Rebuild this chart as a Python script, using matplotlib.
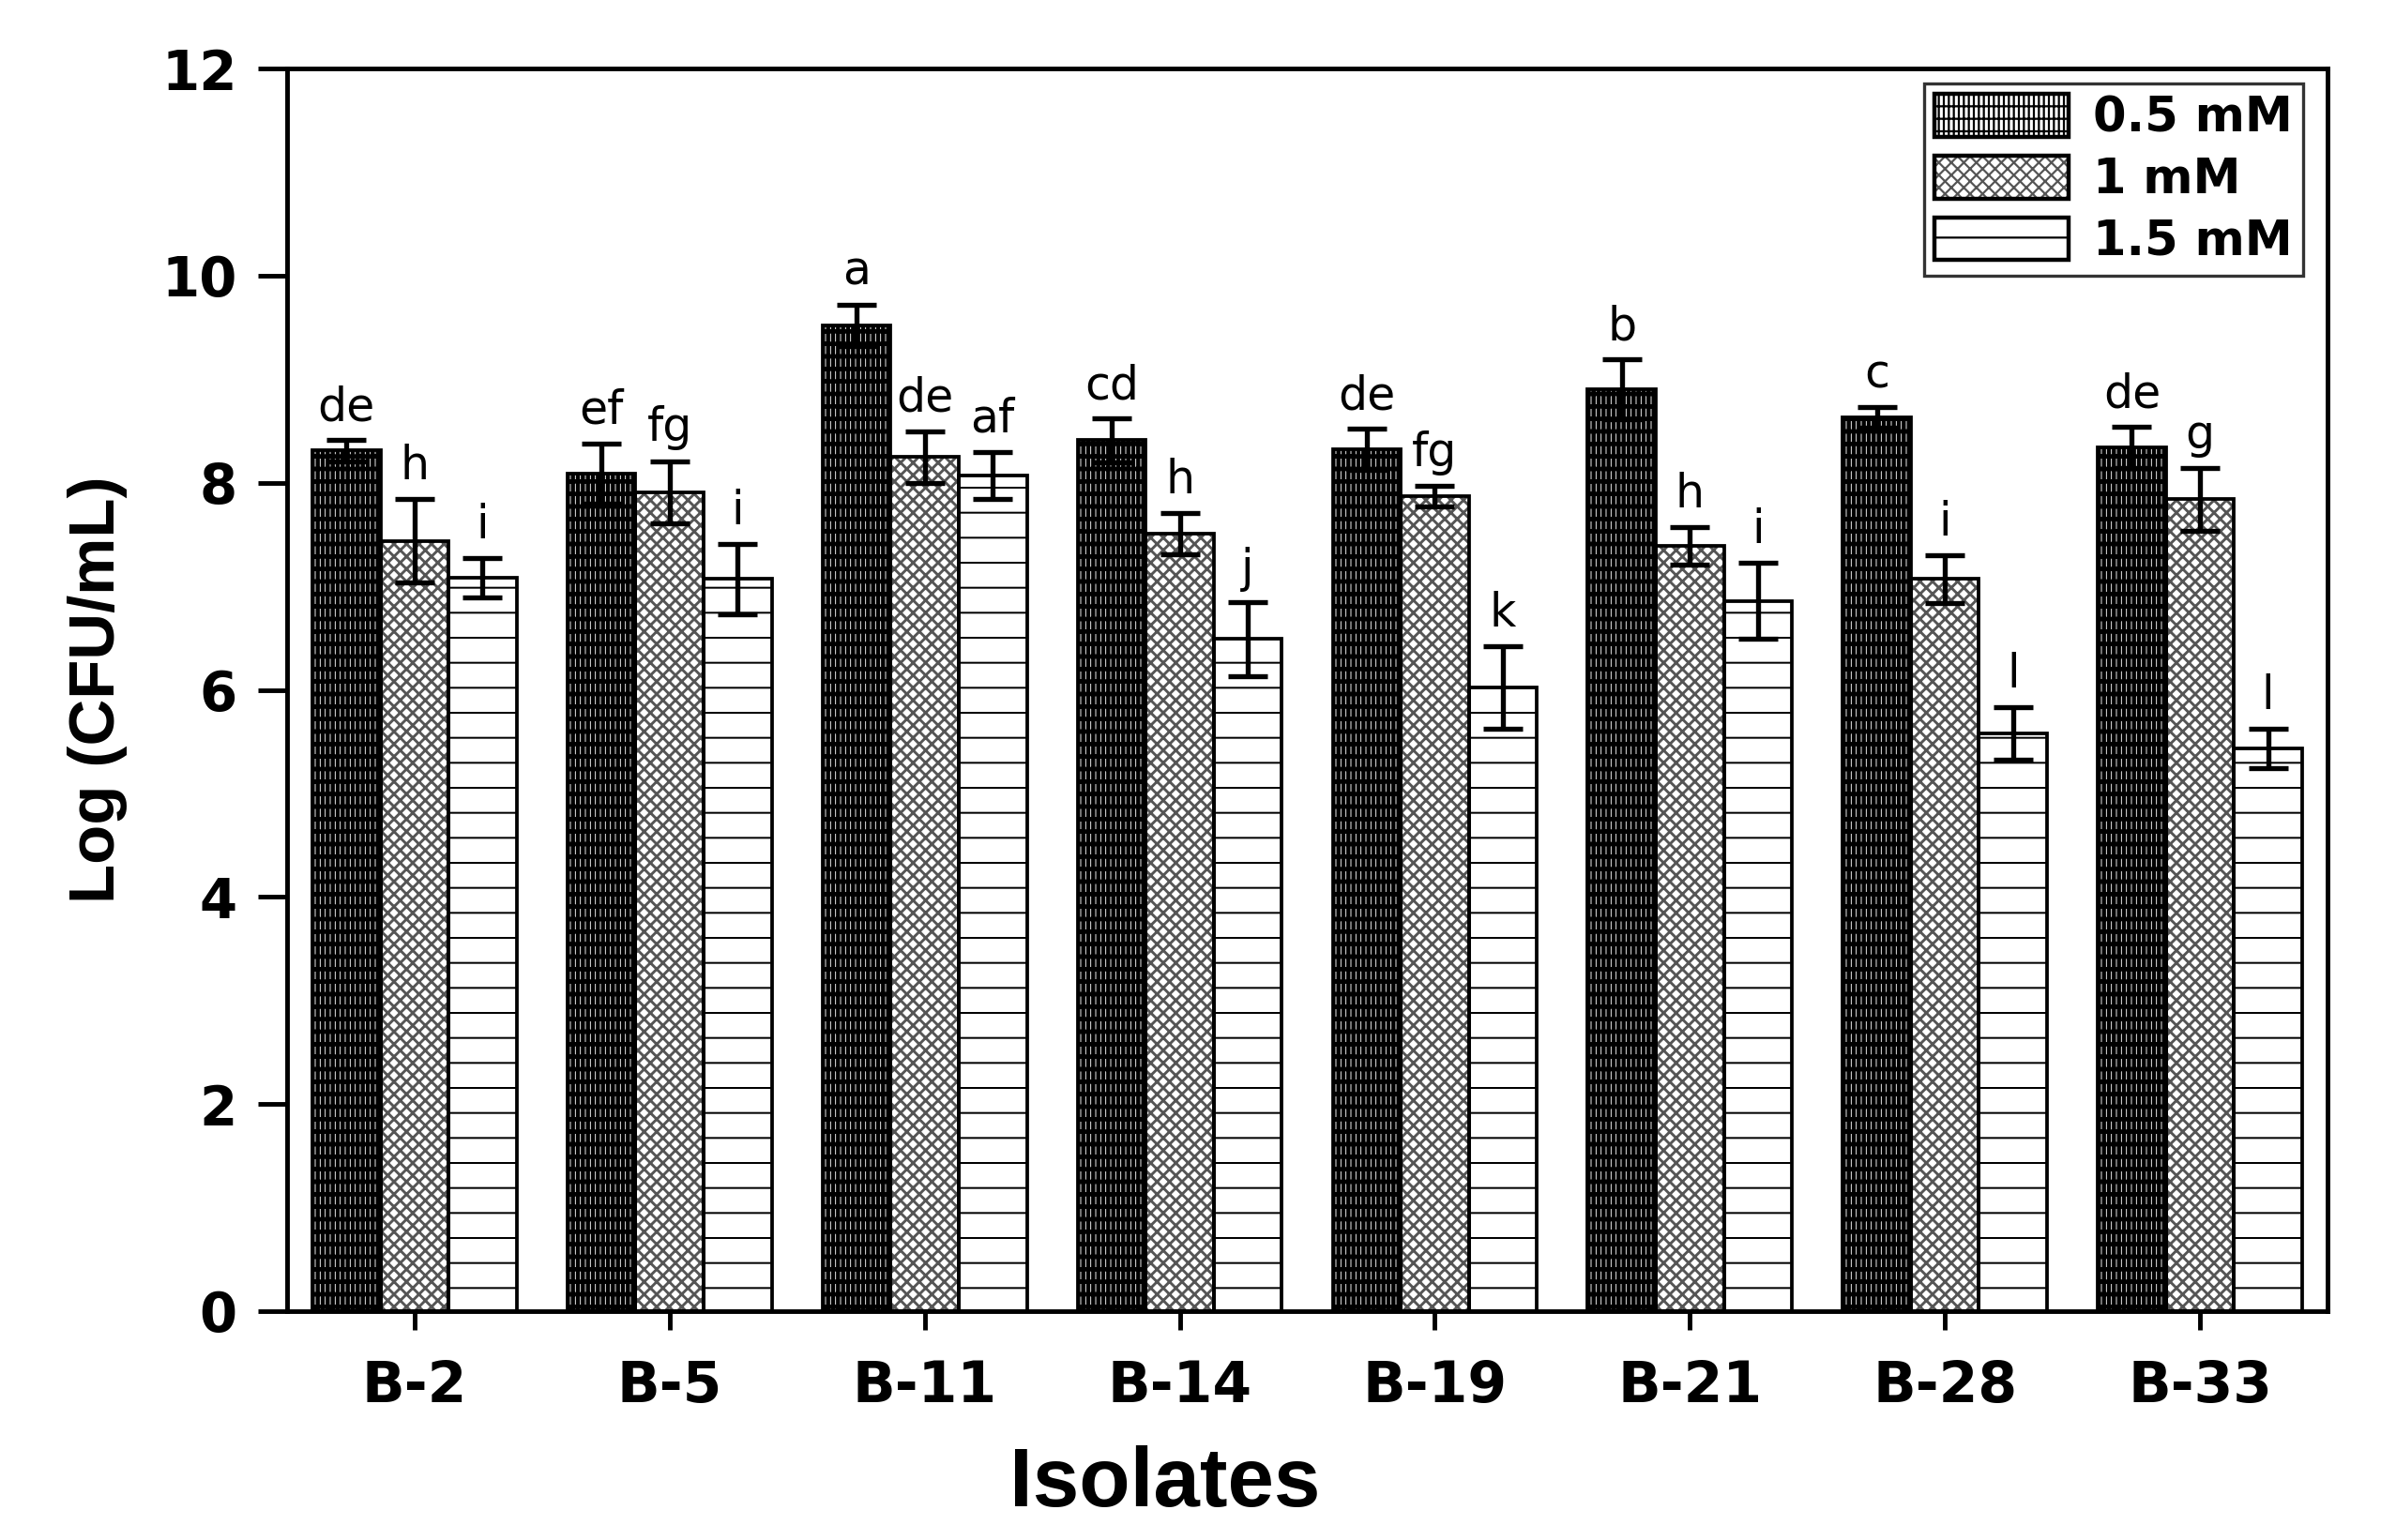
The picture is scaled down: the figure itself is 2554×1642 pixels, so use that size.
import matplotlib
matplotlib.use("Agg")
import matplotlib.pyplot as plt
import numpy as np
from matplotlib.patches import Patch
from matplotlib.legend_handler import HandlerTuple

isolates = ["B-2", "B-5", "B-11", "B-14", "B-19", "B-21", "B-28", "B-33"]
series = ["0.5 mM", "1 mM", "1.5 mM"]
v_05 = [8.31, 8.09, 9.52, 8.41, 8.32, 8.90, 8.63, 8.34]
v_10 = [7.44, 7.91, 8.25, 7.51, 7.87, 7.39, 7.07, 7.84]
v_15 = [7.08, 7.07, 8.07, 6.49, 6.02, 6.86, 5.58, 5.43]
e_05 = [0.10, 0.29, 0.20, 0.21, 0.20, 0.29, 0.10, 0.20]
e_10 = [0.40, 0.30, 0.25, 0.20, 0.10, 0.18, 0.23, 0.30]
e_15 = [0.19, 0.34, 0.23, 0.36, 0.40, 0.37, 0.25, 0.19]
l_05 = ["de", "ef", "a", "cd", "de", "b", "c", "de"]
l_10 = ["h", "fg", "de", "h", "fg", "h", "i", "g"]
l_15 = ["i", "i", "af", "j", "k", "i", "l", "l"]
yticks = [0, 2, 4, 6, 8, 10, 12]

DPI = 160
plt.rcParams['font.family'] = ['DejaVu Sans']
fig = plt.figure(figsize=(2554 / DPI, 1642 / DPI), dpi=DPI)
ax = fig.add_axes([0.1198, 0.1486, 0.9714 - 0.1198, 0.9555 - 0.1486])

x = np.arange(1, len(isolates) + 1)
w = 0.267
vals = [v_05, v_10, v_15]
errs = [e_05, e_10, e_15]
labs = [l_05, l_10, l_15]
hatches = ['|||||--', 'xxxx', '-']
hcolors = ['black', '#555555', 'black']
hlws = [2.0, 1.3, 0.9]
handles = []
for i in range(3):
    pos = x + (i - 1) * w
    with plt.rc_context({'hatch.linewidth': hlws[i]}):
        ax.bar(pos, vals[i], width=w, color='white', edgecolor=hcolors[i],
               hatch=hatches[i], linewidth=0, zorder=2)
        hp = Patch(facecolor='white', edgecolor=hcolors[i], hatch=hatches[i], linewidth=0)
    ax.bar(pos, vals[i], width=w, fill=False, edgecolor='black',
           linewidth=1.7, zorder=3)
    ax.errorbar(pos, vals[i], yerr=errs[i], fmt='none', ecolor='black',
                elinewidth=2.4, capsize=9.5, capthick=2.4, zorder=4)
    for p, v, e, t in zip(pos, vals[i], errs[i], labs[i]):
        ax.text(p, v + e + 0.1, t, ha='center', va='bottom', fontsize=22,
                zorder=5)
    handles.append((hp, Patch(fill=False, edgecolor='black', linewidth=2.0)))

ax.set_xlim(0.5, 8.5)
ax.set_ylim(0, 12)
ax.set_yticks(yticks)
ax.set_xticks(x)
ax.set_xticklabels(isolates, fontsize=27, fontweight='bold')
ax.set_yticklabels([str(t) for t in yticks], fontsize=26, fontweight='bold')
ax.tick_params(axis='y', direction='out', length=14, width=2.2, pad=10)
ax.tick_params(axis='x', direction='out', length=9, width=2.2, pad=14)
for s in ax.spines.values():
    s.set_linewidth(2.2)
ax.set_xlabel("Isolates", fontsize=40, fontweight='bold',
              family=['Liberation Sans', 'DejaVu Sans'])
ax.xaxis.set_label_coords(0.43, -0.108)
ax.set_ylabel("Log (CFU/mL)", fontsize=31, fontweight='bold',
              family=['Liberation Sans', 'DejaVu Sans'])
ax.yaxis.set_label_coords(-0.078, 0.5)

leg = ax.legend(handles, series, handler_map={tuple: HandlerTuple(ndivide=1)},
                loc='upper right', bbox_to_anchor=(0.988, 0.988),
                prop={'weight': 'bold', 'size': 23},
                handlelength=2.8, handleheight=1.0, handletextpad=0.5,
                labelspacing=0.28, borderpad=0.22, frameon=True, fancybox=False,
                borderaxespad=0.0)
leg.get_frame().set_edgecolor('black')
leg.get_frame().set_linewidth(1.5)

fig.savefig("out.png", dpi=DPI)
